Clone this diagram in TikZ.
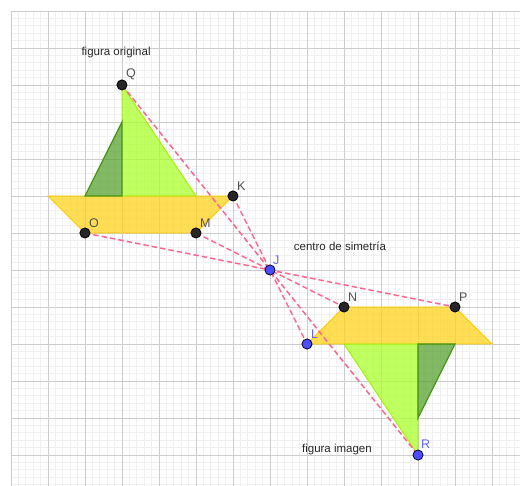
\documentclass[tikz,border=0pt]{standalone}
\usepackage{fontspec}
\setmainfont{Liberation Sans}
\usetikzlibrary{positioning}
\definecolor{minorgray}{RGB}{240,240,240}
\definecolor{majorgray}{RGB}{205,205,205}
\definecolor{hullyellow}{RGB}{255,210,28}
\definecolor{hulledge}{RGB}{255,200,0}
\definecolor{saillight}{RGB}{171,255,43}
\definecolor{saillightedge}{RGB}{160,240,0}
\definecolor{saildark}{RGB}{88,162,48}
\definecolor{saildarkedge}{RGB}{70,150,20}
\definecolor{linkpink}{RGB}{255,105,145}
\definecolor{labelgray}{RGB}{80,80,80}
\definecolor{labelblue}{RGB}{100,100,255}
\definecolor{ptblue}{RGB}{77,77,255}
\definecolor{captiongray}{RGB}{40,40,40}
\begin{document}
\begin{tikzpicture}[scale=1.3,
    font=\fontsize{11.5}{13}\selectfont,
    hull/.style={fill=hullyellow, fill opacity=0.75, draw=hulledge, line width=0.9pt},
    lightsail/.style={fill=saillight, fill opacity=0.75, draw=saillightedge, line width=0.9pt},
    darksail/.style={fill=saildark, fill opacity=0.75, draw=saildarkedge, line width=1.2pt},
    mirrorline/.style={draw=linkpink, line width=1.5pt, dash pattern=on 5.5pt off 3pt},
    ptlabel/.style={inner sep=0pt, text=labelgray, font=\fontsize{12.5}{14}\selectfont},
    bluelabel/.style={inner sep=0pt, text=labelblue, font=\fontsize{12.5}{14}\selectfont},
    caption/.style={inner sep=0pt, text=captiongray}]
    \useasboundingbox (-7.297,-5.838) rectangle (6.757,7.297);

    % Grid
    \draw[minorgray, line width=0.6pt, step=0.2] (-7,-5.838) grid (6.757,7);
    \draw[majorgray, line width=0.9pt, step=1] (-7,-5.838) grid (6.757,7);

    % Points of the original boat and their images
    \coordinate (J) at (0,0);
    \coordinate (Q) at (-4,5);
    \coordinate (K) at (-1,2);
    \coordinate (O) at (-5,1);
    \coordinate (M) at (-2,1);
    \coordinate (R) at (4,-5);
    \coordinate (L) at (1,-2);
    \coordinate (P) at (5,-1);
    \coordinate (N) at (2,-1);

    % Original boat
    \draw[hull] (-6,2) -- (K) -- (M) -- (O) -- cycle;
    \draw[lightsail] (Q) -- (-2,2) -- (-4,2) -- cycle;
    \draw[darksail] (-4,4) -- (-4,2) -- (-5,2) -- cycle;

    % Image boat
    \draw[hull] (6,-2) -- (L) -- (N) -- (P) -- cycle;
    \draw[lightsail] (R) -- (2,-2) -- (4,-2) -- cycle;
    \draw[darksail] (4,-4) -- (4,-2) -- (5,-2) -- cycle;

    % Segments through the centre J
    \draw[mirrorline] (Q) -- (R);
    \draw[mirrorline] (K) -- (L);
    \draw[mirrorline] (O) -- (P);
    \draw[mirrorline] (M) -- (N);

    % Points
    \foreach \p in {Q,K,O,M,N,P}
        \filldraw[fill=black!85, draw=black, line width=0.8pt] (\p) circle (3.9pt);
    \foreach \p in {J,L,R}
        \filldraw[fill=ptblue, draw=black!80!blue, line width=0.8pt] (\p) circle (3.9pt);

    % Labels
    \node[ptlabel, above right=5pt and 4pt of Q] (Qlab) {Q};
    \node[ptlabel, above right=5pt and 4pt of K] (Klab) {K};
    \node[ptlabel, above right=5pt and 4pt of O] (Olab) {O};
    \node[ptlabel, above right=5pt and 4pt of M] (Mlab) {M};
    \node[ptlabel, above right=5pt and 4pt of N] (Nlab) {N};
    \node[ptlabel, above right=5pt and 4pt of P] (Plab) {P};
    \node[bluelabel, above right=5pt and 3pt of J] (Jlab) {J};
    \node[bluelabel, above right=5pt and 4pt of L] (Llab) {L};
    \node[bluelabel, above right=6pt and 3pt of R] (Rlab) {R};

    \node[caption] (orig) at (-4.16,5.89) {figura original};
    \node[caption] (centre) at (1.89,0.65) {centro de simetría};
    \node[caption] (imag) at (1.81,-4.84) {figura imagen};
\end{tikzpicture}
\end{document}
